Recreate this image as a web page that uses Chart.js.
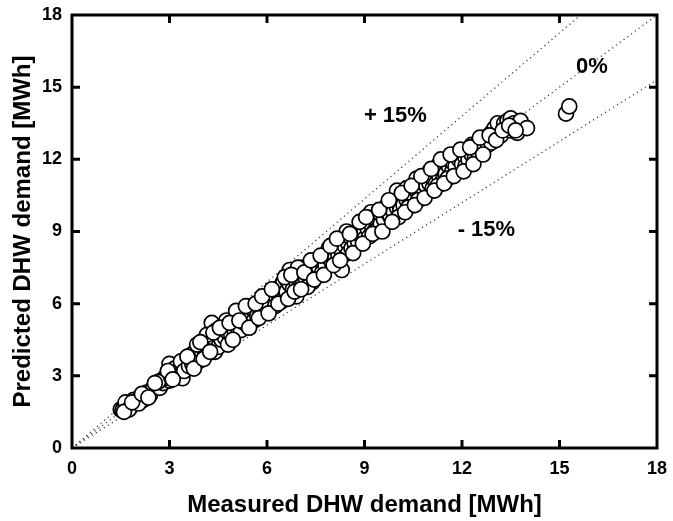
<!DOCTYPE html>
<html>
<head>
<meta charset="utf-8">
<script src="https://cdn.jsdelivr.net/npm/chart.js@4.4.1/dist/chart.umd.min.js"></script>
<style>
  body { margin: 0; background: #fff; }
  #wrap { width: 673px; height: 521px; }
</style>
</head>
<body>
<div id="wrap"><canvas id="parityChart"></canvas></div>
<script>
// measured vs predicted DHW demand [MWh]
var measured = [
  1.5, 1.6, 1.55, 1.7, 1.8, 1.9, 2.0, 1.65, 2.1, 2.2, 2.3, 2.4, 2.5, 1.75, 2.05,
  2.6, 2.7, 2.75, 2.8, 2.9, 3.0, 3.0, 3.1, 3.2, 3.25, 3.3, 3.4, 3.4, 3.5, 2.85, 3.15, 3.35, 2.65, 3.45, 3.05,
  3.6, 3.6, 3.7, 3.7, 3.8, 3.9, 3.9, 4.0, 4.0, 4.1, 4.1, 4.2, 4.2, 4.3, 4.3, 4.4, 4.4, 4.5, 4.5, 3.85, 4.15, 4.45,
  4.6, 4.6, 4.7, 4.7, 4.8, 4.8, 4.9, 4.9, 5.0, 5.0, 5.1, 5.1, 5.2, 5.2, 5.3, 5.3, 5.4, 5.4, 5.5, 5.5, 4.75, 5.05,
  5.6, 5.6, 5.7, 5.7, 5.8, 5.8, 5.9, 6.0, 6.0, 6.1, 6.1, 6.2, 6.2, 6.3, 6.3, 6.4, 6.4, 6.5, 6.5, 5.95, 6.25, 6.45,
  6.6, 6.6, 6.7, 6.7, 6.8, 6.8, 6.9, 6.9, 7.0, 7.0, 7.1, 7.1, 7.2, 7.2, 7.3, 7.3, 7.4, 7.4, 7.5, 7.5, 6.95, 7.25,
  7.6, 7.6, 7.7, 7.7, 7.8, 7.8, 7.9, 7.9, 8.0, 8.0, 8.1, 8.1, 8.2, 8.2, 8.3, 8.3, 8.3, 8.4, 8.4, 8.5, 8.5, 8.45,
  8.6, 8.6, 8.7, 8.7, 8.8, 8.8, 8.9, 8.9, 9.0, 9.0, 9.0, 9.1, 9.1, 9.2, 9.2, 9.3, 9.3, 9.4, 9.4, 9.5, 9.5, 9.15,
  9.6, 9.6, 9.7, 9.7, 9.8, 9.8, 9.9, 9.9, 10.0, 10.0, 10.1, 10.1, 10.2, 10.2, 10.3, 10.3, 10.4, 10.4, 10.5, 10.5, 10.05, 10.35,
  10.6, 10.6, 10.7, 10.7, 10.8, 10.8, 10.9, 10.9, 11.0, 11.0, 11.1, 11.1, 11.2, 11.2, 11.3, 11.3, 11.4, 11.4, 11.5, 11.5, 10.65, 11.25,
  11.6, 11.6, 11.7, 11.7, 11.8, 11.8, 11.9, 12.0, 12.0, 12.1, 12.1, 12.2, 12.2, 12.3, 12.3, 12.4, 12.4, 12.5, 12.5, 11.55,
  12.6, 12.7, 12.8, 12.9, 12.9, 13.0, 13.1, 13.2, 13.3, 13.4, 13.5, 13.5, 13.6, 13.7, 13.7, 13.8, 14.0,
  1.6, 1.85, 2.15, 2.35, 2.55, 2.95, 3.1, 3.55, 3.75, 3.95, 4.05, 4.25, 4.35, 4.55, 4.85, 4.95, 5.15, 5.35, 5.45,
  5.65, 5.75, 5.85, 6.05, 6.15, 6.35, 6.55, 6.65, 6.75, 6.85, 7.05, 7.15, 7.35, 7.45, 7.65, 7.75, 7.95, 8.05, 8.15,
  8.25, 8.55, 8.65, 8.85, 8.95, 9.05, 9.25, 9.45, 9.55, 9.75, 9.85, 10.15, 10.25, 10.45, 10.55, 10.75, 10.85, 11.05,
  11.15, 11.35, 11.45, 11.65, 11.75, 11.95, 12.05, 12.25, 12.35, 12.55, 12.65, 12.85, 13.05, 13.25, 13.45, 13.65,
  15.2, 15.3
];
var predicted = [
  1.6, 1.7, 1.55, 1.8, 1.7, 2.0, 1.9, 1.9, 2.1, 2.0, 2.3, 2.2, 2.5, 1.6, 1.85,
  2.6, 2.5, 2.8, 2.7, 3.0, 2.8, 3.5, 3.1, 3.0, 3.3, 3.2, 3.5, 2.9, 3.4, 2.9, 3.3, 3.6, 2.75, 3.2, 2.95,
  3.7, 3.4, 3.5, 3.9, 3.8, 3.6, 4.1, 4.0, 4.3, 3.9, 4.4, 4.2, 4.6, 4.3, 5.2, 4.0, 4.5, 4.7, 4.2, 4.3, 4.7, 4.9,
  4.5, 4.9, 4.6, 5.1, 4.8, 4.3, 5.0, 4.7, 5.2, 4.9, 5.5, 5.0, 5.3, 4.9, 5.6, 5.2, 5.5, 5.1, 5.8, 5.4, 5.3, 5.7,
  5.7, 5.3, 5.9, 5.5, 6.0, 5.6, 5.8, 6.2, 5.8, 6.1, 6.4, 6.0, 6.5, 6.3, 6.6, 6.2, 6.7, 6.4, 6.9, 6.1, 5.9, 6.1,
  6.5, 7.0, 6.8, 7.4, 6.6, 7.1, 6.9, 6.3, 7.2, 7.0, 7.5, 6.8, 7.3, 7.0, 7.6, 7.1, 7.3, 6.9, 7.7, 7.4, 7.5, 6.7,
  7.5, 7.9, 7.7, 7.3, 8.0, 7.6, 7.9, 8.3, 8.1, 7.7, 8.3, 7.9, 8.5, 8.0, 8.6, 8.2, 7.4, 8.4, 8.8, 8.5, 8.1, 9.0,
  8.7, 8.3, 8.9, 8.5, 9.0, 8.6, 9.2, 8.8, 9.3, 9.0, 8.7, 9.5, 9.1, 9.3, 9.8, 9.0, 9.6, 9.4, 9.1, 9.7, 9.3, 8.8,
  9.9, 9.5, 9.8, 10.1, 9.6, 10.0, 10.2, 9.8, 10.0, 10.7, 10.3, 9.9, 10.5, 10.1, 10.3, 10.8, 10.6, 10.2, 10.9, 10.5, 9.6, 10.0,
  10.7, 11.2, 10.5, 10.9, 11.1, 10.7, 11.3, 10.9, 11.0, 11.5, 11.2, 10.8, 11.6, 11.0, 11.3, 11.8, 11.5, 11.1, 11.9, 11.4, 10.3, 10.9,
  11.7, 12.0, 11.5, 11.9, 12.2, 11.7, 12.0, 12.3, 11.8, 12.1, 11.7, 12.4, 12.0, 12.6, 12.2, 12.5, 12.1, 12.7, 12.3, 11.2,
  12.5, 12.9, 12.6, 13.1, 12.7, 13.3, 13.5, 13.0, 13.5, 13.6, 13.2, 13.7, 13.5, 13.4, 13.1, 13.6, 13.3,
  1.5, 1.9, 2.25, 2.1, 2.7, 3.2, 2.85, 3.8, 3.3, 4.4, 3.7, 4.0, 4.8, 5.0, 5.2, 4.5, 5.3, 5.9, 5.0,
  6.0, 5.4, 6.3, 5.6, 6.6, 6.0, 7.1, 6.2, 7.2, 6.5, 6.6, 7.3, 7.8, 7.0, 8.0, 7.2, 8.4, 7.6, 8.7,
  7.8, 8.9, 8.1, 9.4, 8.5, 9.6, 8.9, 9.9, 9.0, 10.3, 9.4, 10.6, 9.8, 10.9, 10.1, 11.3, 10.4, 11.6,
  10.7, 12.0, 11.0, 12.2, 11.3, 12.4, 11.5, 12.5, 11.8, 12.9, 12.2, 13.0, 12.8, 13.2, 13.4, 13.2,
  13.9, 14.2
];

// reference lines: 0 %, +15 %, -15 % (end points)
var lineZeroX = [0, 18], lineZeroY = [0, 18];
var linePlusX = [0, 15.65], linePlusY = [0, 18];
var lineMinusX = [0, 18], lineMinusY = [0, 15.3];

var tickValues = [0, 3, 6, 9, 12, 15, 18];

// text labels next to the lines: [text, x, y] in data units
var lineLabels = [
  ['+ 15%', 9.95, 13.8],
  ['0%', 16.0, 15.85],
  ['- 15%', 12.75, 9.05]
];

var FONT = '"Liberation Sans", Arial, sans-serif';

function toPoints(xs, ys) {
  return xs.map(function (x, i) { return { x: x, y: ys[i] }; });
}

function refLine(xs, ys) {
  return {
    type: 'line',
    data: toPoints(xs, ys),
    borderColor: '#333',
    borderWidth: 1.2,
    borderDash: [1.2, 3.5],
    pointRadius: 0,
    fill: false
  };
}

// no automatic room for overhanging tick labels, the layout padding sets the plot box
function fixBox(scale, w, h) {
  if (w) scale.width = w;
  if (h) scale.height = h;
  scale.paddingTop = 0;
  scale.paddingBottom = 0;
  scale.paddingLeft = 0;
  scale.paddingRight = 0;
}

var framePlugin = {
  id: 'frame',
  afterDraw: function (chart) {
    var ctx = chart.ctx, a = chart.chartArea;
    var xs = chart.scales.x, ys = chart.scales.y;
    ctx.save();
    ctx.strokeStyle = '#000';
    ctx.lineWidth = 3;
    ctx.strokeRect(a.left, a.top, a.right - a.left, a.bottom - a.top);
    ctx.beginPath();
    tickValues.slice(1, -1).forEach(function (v) {
      var px = xs.getPixelForValue(v), py = ys.getPixelForValue(v);
      ctx.moveTo(px, a.bottom); ctx.lineTo(px, a.bottom - 8);
      ctx.moveTo(px, a.top); ctx.lineTo(px, a.top + 8);
      ctx.moveTo(a.left, py); ctx.lineTo(a.left + 8, py);
      ctx.moveTo(a.right, py); ctx.lineTo(a.right - 8, py);
    });
    ctx.stroke();

    ctx.fillStyle = '#000';
    ctx.font = 'bold 22px ' + FONT;
    ctx.textAlign = 'center';
    ctx.textBaseline = 'middle';
    lineLabels.forEach(function (l) {
      ctx.fillText(l[0], xs.getPixelForValue(l[1]), ys.getPixelForValue(l[2]));
    });
    ctx.restore();
  }
};

var ctx = document.getElementById('parityChart').getContext('2d');
var parityChart = new Chart(ctx, {
  type: 'scatter',
  data: {
    datasets: [
      {
        data: toPoints(measured, predicted),
        backgroundColor: '#fff',
        borderColor: '#000',
        borderWidth: 1.7,
        pointRadius: 7.5,
        pointHoverRadius: 7.5
      },
      refLine(lineZeroX, lineZeroY),
      refLine(linePlusX, linePlusY),
      refLine(lineMinusX, lineMinusY)
    ]
  },
  plugins: [framePlugin],
  options: {
    responsive: true,
    maintainAspectRatio: false,
    animation: false,
    layout: { padding: { top: 15, right: 16, left: 0, bottom: 0 } },
    plugins: { legend: { display: false }, tooltip: { enabled: false } },
    scales: {
      x: {
        type: 'linear', min: 0, max: 18,
        grid: { display: false, drawTicks: false },
        border: { display: false },
        ticks: { stepSize: 3, padding: 10, color: '#000', font: { family: FONT, size: 18, weight: 'bold' } },
        title: {
          display: true, text: 'Measured DHW demand [MWh]', color: '#000',
          font: { family: FONT, size: 24, weight: 'bold' }, padding: { top: 0, bottom: 1 }
        },
        afterFit: function (scale) { fixBox(scale, 0, 73); }
      },
      y: {
        type: 'linear', min: 0, max: 18,
        grid: { display: false, drawTicks: false },
        border: { display: false },
        ticks: { stepSize: 3, padding: 10, color: '#000', font: { family: FONT, size: 18, weight: 'bold' } },
        title: {
          display: true, text: 'Predicted DHW demand [MWh]', color: '#000',
          font: { family: FONT, size: 24, weight: 'bold' }, padding: { top: 9, bottom: 0 }
        },
        afterFit: function (scale) { fixBox(scale, 72, 0); }
      }
    }
  }
});
</script>
</body>
</html>
